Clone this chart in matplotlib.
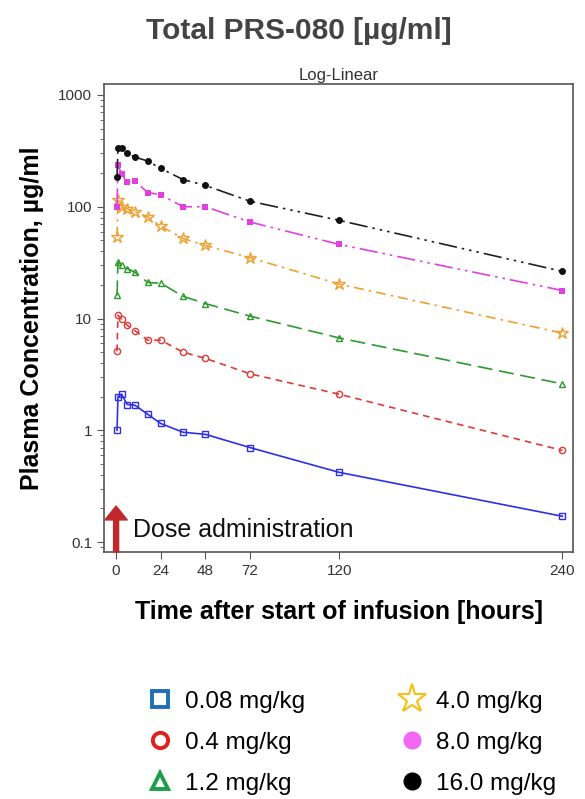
import matplotlib.pyplot as plt
from matplotlib.lines import Line2D
import numpy as np

plt.rcParams['font.family'] = ['Liberation Sans', 'DejaVu Sans']

# nominal sampling times (hours)
hours = [0.5, 1, 3, 6, 10, 17, 24, 36, 48, 72, 120, 240]

# mean plasma concentration (ug/ml) per dose group
c_008 = [1.0, 2.0, 2.1, 1.7, 1.68, 1.39, 1.15, 0.96, 0.92, 0.70, 0.42, 0.17]
c_04 = [5.1, 10.7, 9.8, 8.7, 7.8, 6.4, 6.4, 5.0, 4.4, 3.2, 2.1, 0.66]
c_12 = [16.1, 32, 30, 28, 26, 21, 20.7, 15.8, 13.6, 10.5, 6.7, 2.6]
c_40 = [54, 116, 100, 96, 90, 81, 67, 52, 45, 35, 20.3, 7.4]
c_80 = [100, 235, 195, 166, 170, 134, 128, 100, 100, 73, 46, 17.8]
c_160 = [184, 338, 333, 300, 279, 256, 220, 175, 155, 112, 75.5, 26.4]

labels = ['0.08 mg/kg', '0.4 mg/kg', '1.2 mg/kg', '4.0 mg/kg', '8.0 mg/kg', '16.0 mg/kg']
xticks = [0, 24, 48, 72, 120, 240]
yticks = [0.1, 1, 10, 100, 1000]
ytick_labels = ['0.1', '1', '10', '100', '1000']

fig = plt.figure(figsize=(5.85, 7.99), dpi=100)
ax = fig.add_axes([0.1778, 0.3091, 0.8017, 0.5858])

ms = 4.5
ax.plot(hours, c_008, color='#2f2fe8', lw=1.2, ls='-', marker='s', ms=ms, mfc='none', mew=1.0)
ax.plot(hours, c_04, color='#e03a3a', lw=1.2, ls=(0, (4, 3)), marker='o', ms=ms, mfc='none', mew=1.0)
ax.plot(hours, c_12, color='#2e9a2e', lw=1.2, ls=(0, (9, 4)), marker='^', ms=ms, mfc='none', mew=1.0)
ax.plot(hours, c_40, color='#f0a030', lw=1.2, ls=(0, (6, 3, 1.5, 3)), marker='*', ms=9, mfc='none', mew=1.0)
ax.plot(hours, c_80, color='#e040e0', lw=1.2, ls=(0, (11, 3, 1.5, 3, 1.5, 3)), marker='s', ms=4, mfc='#e040e0', mew=0)
ax.plot(hours, c_160, color='#202020', lw=1.2, ls=(0, (11, 3, 1.5, 3, 1.5, 3, 1.5, 3)), marker='o', ms=4, mfc='#111111', mec='#111111')

ax.set_yscale('log')
ax.set_ylim(0.0814, 1254)
ax.set_xlim(-6.5, 245.7)
ax.set_yticks(yticks)
ax.set_yticklabels(ytick_labels)
ax.set_xticks(xticks)
ax.tick_params(labelsize=11, colors='#555555', labelcolor='#333333', length=5)
ax.tick_params(which='minor', length=3, colors='#555555')
for s in ax.spines.values():
    s.set_color('#555555')
    s.set_linewidth(1.2)

# dose administration arrow
ax.annotate('', xy=(0, 0.21), xytext=(0, 0.0814),
            arrowprops=dict(color='#c0282d', width=3.6, headwidth=16, headlength=10, shrink=0))
ax.text(9, 0.127, 'Dose administration', fontsize=18, va='center', ha='left', color='#111111')

ax.set_xlabel('Time after start of infusion [hours]', fontsize=18, fontweight='bold', labelpad=16)
ax.set_ylabel('Plasma Concentration, µg/ml', fontsize=18, fontweight='bold', labelpad=10)
ax.set_title('Log-Linear', fontsize=12, color='#333333', pad=3)
fig.text(0.51, 0.961, 'Total PRS-080 [µg/ml]', fontsize=21.5, fontweight='bold',
         color='#444444', ha='center', va='center')

handles = [
    Line2D([], [], ls='none', marker='s', ms=11, mfc='none', mec='#1f6fb5', mew=2.8),
    Line2D([], [], ls='none', marker='o', ms=11, mfc='none', mec='#e0201b', mew=2.8),
    Line2D([], [], ls='none', marker='^', ms=12, mfc='none', mec='#1a9e4a', mew=2.8),
    Line2D([], [], ls='none', marker='*', ms=21, mfc='none', mec='#f4c020', mew=1.6),
    Line2D([], [], ls='none', marker='o', ms=12, mfc='#f466f4', mec='#f466f4'),
    Line2D([], [], ls='none', marker='o', ms=12, mfc='black', mec='black'),
]
fig.legend(handles, labels, ncol=2, frameon=False, fontsize=17.5,
           loc='upper left', bbox_to_anchor=(0.212, 0.163),
           labelspacing=0.78, columnspacing=3.8, handlelength=1.2, handletextpad=0.4)

fig.savefig('out.png', dpi=100)
